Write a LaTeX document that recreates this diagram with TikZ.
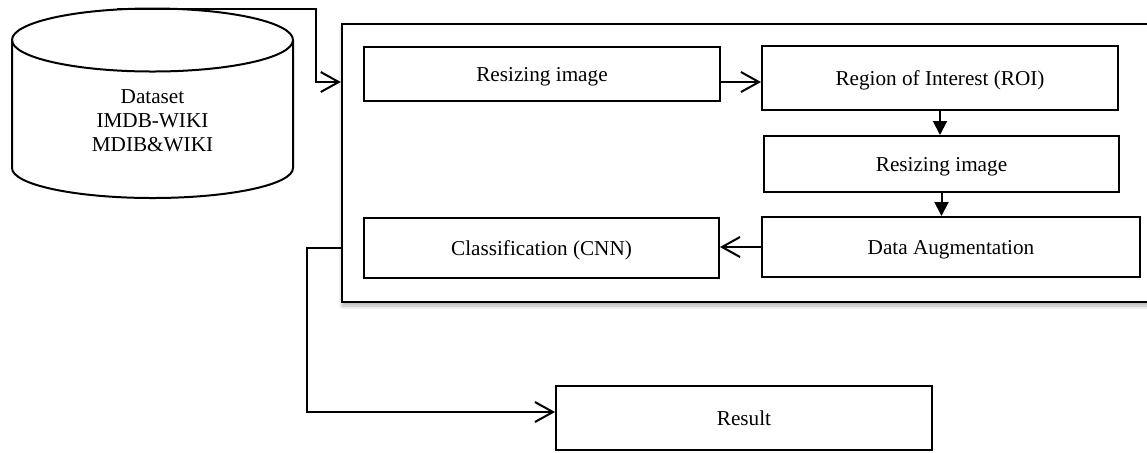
\documentclass[tikz,border=0pt]{standalone}
\usepackage{fontspec}
\setmainfont{Liberation Serif}
\usetikzlibrary{arrows.meta,shadows.blur}
\begin{document}
\begin{tikzpicture}[x=0.5pt,y=-0.5pt,line width=1pt,
    every node/.style={font=\fontsize{10.6}{12}\selectfont},
    stepbox/.style={draw,rectangle,fill=white,inner sep=0pt,text depth=0pt},
    openarrow/.style={-{Straight Barb[length=9pt,width=10pt]}},
    fillarrow/.style={-{Triangle[length=7pt,width=7pt]}}]
  \useasboundingbox (0,0) rectangle (1147,452);
  \draw (12,40) -- (12,168) arc[start angle=180,end angle=0,x radius=140.5,y radius=30] -- (293,40);
  \draw (152.5,40) ellipse[x radius=140.5,y radius=31.5];
  \node[align=center] (dataset) at (152.5,121) {Dataset\\IMDB-WIKI\\MDIB\&WIKI};
  \coordinate (dbtop) at (117,8.5);
  \node[stepbox,line width=1.2pt,minimum width=409pt,minimum height=139pt,
    blur shadow={shadow xshift=0pt,shadow yshift=-2pt,shadow blur steps=6,shadow opacity=30}] (stage) at (751,163) {};
  \node[stepbox,minimum width=178pt,minimum height=27pt] (resizeA) at (542,74) {Resizing image};
  \node[stepbox,minimum width=178pt,minimum height=32pt] (roi) at (940,78) {Region of Interest (ROI)};
  \node[stepbox,minimum width=177.5pt,minimum height=28pt] (resizeB) at (941.5,164) {Resizing image};
  \node[stepbox,minimum width=189pt,minimum height=30pt] (augment) at (951,247) {Data Augmentation};
  \node[stepbox,minimum width=177.5pt,minimum height=30pt] (classify) at (541.5,248) {Classification (CNN)};
  \node[stepbox,minimum width=188pt,minimum height=32pt] (result) at (744,418) {Result};
  \coordinate (bend) at (316,82);
  \coordinate (turn) at (307,248);
  \draw[openarrow] (dbtop) -| (bend) -- (bend -| stage.west);
  \draw[openarrow] ([yshift=-4pt]resizeA.east) -- ([yshift=-4pt]resizeA.east -| roi.west);
  \draw[fillarrow] (roi.south) -- (roi.south |- resizeB.north);
  \draw[fillarrow] (resizeB.south) -- (resizeB.south |- augment.north);
  \draw[openarrow] (augment.west) -- (augment.west -| classify.east);
  \draw[openarrow] (turn -| stage.west) -- (turn) |- ([yshift=3pt]result.west);
\end{tikzpicture}
\end{document}
